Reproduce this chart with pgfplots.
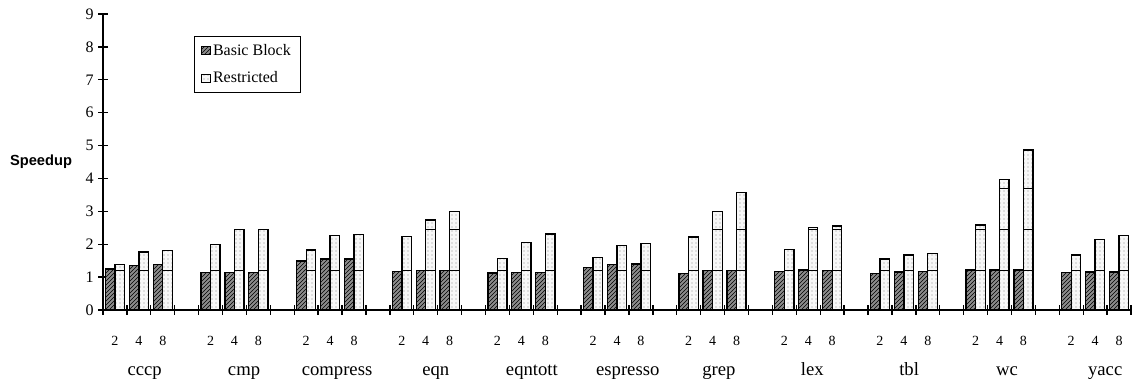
\documentclass[border=0pt]{standalone}
\usepackage{fontspec}
\setmainfont{Liberation Serif}
\setsansfont{Liberation Sans}
\usepackage{pgfplots}
\usepackage{pgfplotstable}
\pgfplotsset{compat=1.18}
\usetikzlibrary{patterns}

\pgfplotstableread{
x    bb    r
0.5  1.25  1.385
1.5  1.355 1.76
2.5  1.385 1.80
4.5  1.15  2.00
5.5  1.15  2.45
6.5  1.15  2.45
8.5  1.49  1.82
9.5  1.55  2.26
10.5 1.55  2.30
12.5 1.18  2.24
13.5 1.20  2.74
14.5 1.20  3.00
16.5 1.13  1.57
17.5 1.15  2.06
18.5 1.15  2.31
20.5 1.30  1.59
21.5 1.38  1.97
22.5 1.40  2.02
24.5 1.12  2.22
25.5 1.20  3.00
26.5 1.20  3.57
28.5 1.18  1.83
29.5 1.22  2.51
30.5 1.20  2.55
32.5 1.12  1.55
33.5 1.16  1.67
34.5 1.18  1.71
36.5 1.22  2.58
37.5 1.22  3.97
38.5 1.22  4.87
40.5 1.14  1.67
41.5 1.16  2.14
42.5 1.16  2.26
}\data

% segment lines inside the Restricted bars
\pgfplotstableread{
x    y
0.5  1.21
1.5  1.21
2.5  1.21
4.5  1.21
5.5  1.21
6.5  1.21
8.5  1.21
9.5  1.21
10.5 1.21
12.5 1.21
13.5 1.21
14.5 1.21
16.5 1.21
17.5 1.21
18.5 1.21
20.5 1.21
21.5 1.21
22.5 1.21
24.5 1.21
25.5 1.21
26.5 1.21
28.5 1.21
29.5 1.21
30.5 1.21
32.5 1.21
33.5 1.21
34.5 1.21
36.5 1.21
37.5 1.21
38.5 1.21
40.5 1.21
41.5 1.21
42.5 1.21
}\segA

\pgfplotstableread{
x    y
13.5 2.45
14.5 2.45
25.5 2.45
26.5 2.45
29.5 2.45
30.5 2.45
36.5 2.45
37.5 2.45
38.5 2.45
}\segB

\pgfplotstableread{
x    y
37.5 3.69
38.5 3.69
}\segC

\begin{document}
\begin{tikzpicture}
\begin{axis}[
  name=ax,
  scale only axis,
  width=771pt, height=222pt,
  xmin=0, xmax=43, ymin=0, ymax=9,
  axis x line*=bottom, axis y line*=left,
  axis line style={line width=1.1pt, black},
  ytick={0,1,...,9},
  xtick=data,
  xticklabels={2,4,8,2,4,8,2,4,8,2,4,8,2,4,8,2,4,8,2,4,8,2,4,8,2,4,8,2,4,8,2,4,8},
  minor xtick={0,1,...,43},
  tick align=center,
  major tick length=7pt, minor tick length=7pt,
  tick style={black, line width=1pt},
  major x tick style={draw=none},
  /pgf/number format/assume math mode=true,
  yticklabel style={font=\fontsize{12}{12}\selectfont},
  xticklabel style={font=\fontsize{10.5}{10.5}\selectfont, text height=7pt},
  xticklabel shift=12.5pt,
  extra x ticks={1.74,5.9,9.79,13.92,17.94,21.95,25.76,29.67,33.72,37.81,41.92},
  extra x tick labels={cccp,cmp,compress,eqn,eqntott,espresso,grep,lex,tbl,wc,yacc},
  extra x tick style={major tick length=0pt, xticklabel shift=35.5pt,
     xticklabel style={font=\fontsize{14}{14}\selectfont, text height=10pt, text depth=3pt}},
  ylabel={\sffamily\bfseries Speedup},
  every axis y label/.style={at={(axis description cs:0,0.5)}, anchor=center, xshift=-46.5pt, font=\fontsize{11}{11}\selectfont},
  legend style={at={(axis cs:3.8,8.33)}, anchor=north west, draw=black, line width=0.8pt,
     font=\fontsize{12}{12}\selectfont, row sep=7pt, inner xsep=5pt, inner ysep=3.5pt,
     nodes={inner sep=2pt}},
  legend cell align=left,
  legend image code/.code={\draw[#1, line width=0.6pt] (0pt,-3.2pt) rectangle (6.4pt,3.2pt);},
  clip=false,
]
\addplot[ybar, bar width=0.4, bar shift=-0.2, draw=black, line width=1pt,
  fill=black!45, postaction={pattern=north east lines, pattern color=black}]
  table[x=x, y=bb]{\data};
\addlegendentry{Basic Block}
\addplot[ybar, bar width=0.4, bar shift=0.2, draw=black, line width=1pt,
  fill=black!3, postaction={pattern=dots, pattern color=black!45}]
  table[x=x, y=r]{\data};
\addlegendentry{Restricted}
\addplot[ybar, forget plot, bar width=0.4, bar shift=0.2, draw=black, line width=0.6pt, fill=none]
  table[x=x, y=y]{\segA};
\addplot[ybar, forget plot, bar width=0.4, bar shift=0.2, draw=black, line width=0.6pt, fill=none]
  table[x=x, y=y]{\segB};
\addplot[ybar, forget plot, bar width=0.4, bar shift=0.2, draw=black, line width=0.6pt, fill=none]
  table[x=x, y=y]{\segC};
\end{axis}
\pgfresetboundingbox
\path ([xshift=-77.25pt,yshift=-54.75pt]ax.south west) rectangle ([xshift=773.25pt,yshift=232.5pt]ax.south west);
\end{tikzpicture}
\end{document}
